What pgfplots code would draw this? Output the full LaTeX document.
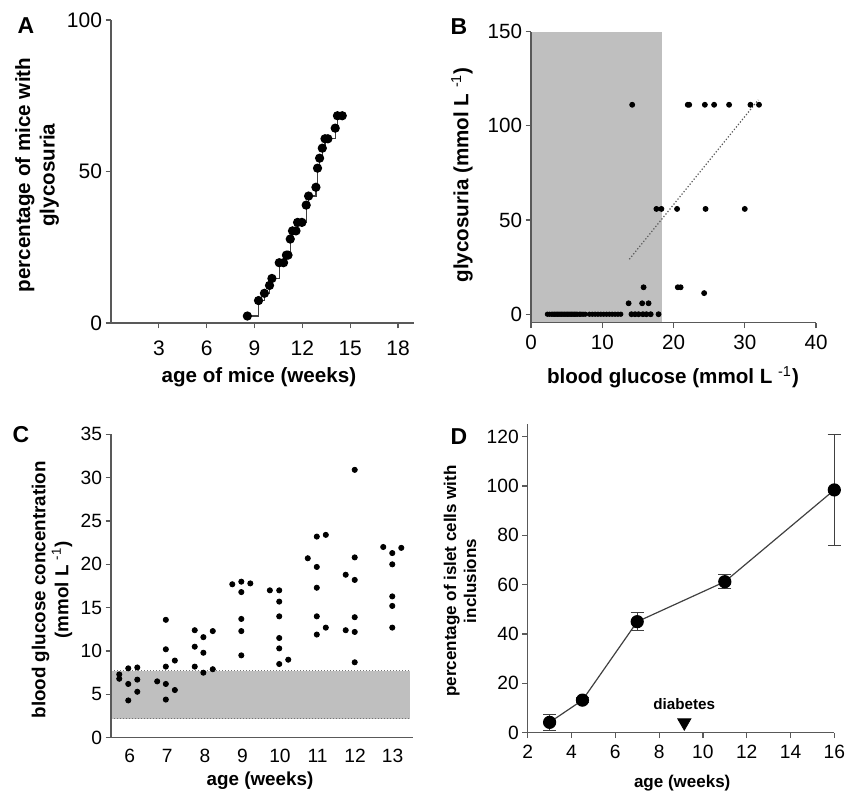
\documentclass[border=0pt]{standalone}
\usepackage{fontspec}
\setmainfont{Liberation Sans}
\usepackage{pgfplots}
\pgfplotsset{compat=1.18}
\definecolor{axgray}{gray}{0.35}
\definecolor{shade}{gray}{0.75}
\pgfplotsset{
  panel/.style={
    scale only axis,
    anchor=south west,
    axis x line*=bottom, axis y line*=left,
    axis line style={axgray, line width=0.6pt, -},
    tick style={axgray, line width=0.6pt},
    tick align=outside,
    major tick length=2.7pt,
    axis on top,
    /pgf/number format/assume math mode=true,
    tick label style={font=\fontsize{10.3}{12}\selectfont},
    yticklabel style={inner sep=1.6pt},
    xticklabel style={inner sep=0pt, yshift=-3.4pt},
    label style={font=\fontsize{10.3}{12.3}\selectfont\bfseries},
    clip=false,
  }
}
\begin{document}
\begin{tikzpicture}
\useasboundingbox (0,0) rectangle (427pt,395.5pt);
% ---------------- A
\begin{axis}[panel, at={(55.5pt,234pt)}, width=151.5pt, height=151.5pt,
  xmin=0, xmax=19, ymin=0, ymax=100,
  xtick={3,6,...,18}, ytick={0,50,100},
  tick label style={font=\fontsize{10.5}{12}\selectfont},
  xticklabel style={yshift=-2.5pt},
  xlabel={age of mice (weeks)},
  ylabel={percentage of mice with\\glycosuria},
  xlabel style={at={(axis description cs:0.488,-0.178)}, anchor=center},
  ylabel style={align=center, at={(axis description cs:-0.244,0.488)}, anchor=center},
]
\addplot[const plot, black!75, line width=0.6pt, mark=*, mark size=2pt, mark options={black, solid}] coordinates {
(8.55,2.3)(9.25,7.4)(9.62,9.8)(9.94,12.4)(10.09,14.7)(10.55,19.9)(10.82,19.9)
(11.0,22.4)(11.1,22.4)(11.24,27.7)(11.38,30.4)(11.6,30.4)(11.7,33.2)(11.97,33.2)
(12.24,38.9)(12.39,41.9)(12.85,44.8)(12.95,51.1)(13.08,54.4)(13.25,57.7)
(13.42,60.8)(13.6,60.8)(14.06,64.3)(14.2,68.4)(14.5,68.4)};
\end{axis}
% ---------------- B
\begin{axis}[panel, at={(265.5pt,234.15pt)}, width=142.5pt, height=145.5pt,
  xmin=0, xmax=40, ymin=-4.5, ymax=150,
  xtick={0,10,20,30,40}, ytick={0,50,100,150},
  xlabel={blood glucose (mmol L \textsuperscript{\mdseries -1})},
  ylabel={glycosuria (mmol L \textsuperscript{\mdseries -1})},
  xlabel style={at={(axis description cs:0.498,-0.187)}, anchor=center},
  ylabel style={at={(axis description cs:-0.242,0.508)}, anchor=center},
]
\addplot[fill=shade, draw=none] coordinates {(0,-4.5)(18.4,-4.5)(18.4,150)(0,150)} -- cycle;
\addplot[only marks, mark=*, mark size=1.25pt, black] coordinates {
(14.2,111.2)(22.0,111.2)(22.2,111.2)(24.4,111.2)(25.7,111.2)(27.8,111.2)(30.8,111.2)(32.0,111.2)
(17.6,55.9)(18.3,55.9)(20.5,55.9)(24.5,55.9)(30.0,55.9)
(15.8,14.3)(20.6,14.3)(21.0,14.3)
(24.3,11.2)
(13.7,5.8)(15.6,5.8)(16.5,5.8)
(14.1,0)(14.6,0)(15.1,0)(15.7,0)(16.2,0)(16.8,0)(17.9,0)};
\addplot[only marks, mark=*, mark size=1.1pt, black] coordinates {
(2.3,0)(2.6,0)(2.9,0)(3.1,0)(3.3,0)(3.5,0)(3.7,0)(3.9,0)(4.1,0)(4.3,0)(4.5,0)
(4.7,0)(4.9,0)(5.1,0)(5.3,0)(5.5,0)(5.7,0)(5.9,0)(6.1,0)(6.3,0)(6.5,0)(6.8,0)
(7.0,0)(7.3,0)(7.6,0)(8.2,0)(8.6,0)(9.0,0)(9.4,0)(9.8,0)(10.2,0)(10.6,0)(11.0,0)
(11.4,0)(11.8,0)(12.2,0)(12.6,0)};
\addplot[densely dotted, black!65, line width=0.6pt] coordinates {(13.8,29.2)(31.9,113.8)};
\end{axis}
% ---------------- C
\begin{axis}[panel, at={(55.5pt,26.65pt)}, width=151.15pt, height=151.7pt,
  xmin=5.5, xmax=13.55, ymin=0, ymax=35,
  xtick={6,...,13}, ytick={0,5,...,35},
  xtick style={draw=none},
  tick label style={font=\fontsize{9.6}{11}\selectfont},
  xticklabel style={yshift=0.6pt},
  label style={font=\fontsize{9.4}{11.5}\selectfont\bfseries},
  xlabel={age (weeks)},
  ylabel={blood glucose concentration\\(mmol L \textsuperscript{\mdseries -1})},
  xlabel style={at={(axis description cs:0.493,-0.142)}, anchor=center},
  ylabel style={align=center, at={(axis description cs:-0.195,0.487)}, anchor=center},
]
\addplot[fill=shade, draw=none] coordinates {(5.5,2.2)(13.45,2.2)(13.45,7.7)(5.5,7.7)} -- cycle;
\addplot[densely dotted, black!55, line width=0.5pt] coordinates {(5.5,7.7)(13.45,7.7)};
\addplot[densely dotted, black!55, line width=0.5pt] coordinates {(5.5,2.2)(13.45,2.2)};
\addplot[only marks, mark=*, mark size=1.3pt, black] coordinates {
(5.72,7.3)(5.72,6.8)(5.96,8.0)(5.96,6.2)(5.96,4.3)(6.2,8.1)(6.2,6.7)(6.2,5.3)
(6.73,6.5)(6.96,13.6)(6.96,10.2)(6.96,8.2)(6.96,6.2)(6.96,4.4)(7.2,8.9)(7.2,5.5)
(7.73,12.4)(7.73,10.5)(7.73,8.2)(7.96,11.6)(7.96,9.8)(7.96,7.5)(8.21,12.3)(8.21,7.9)
(8.73,17.7)(8.97,18.0)(8.97,16.8)(8.97,13.7)(8.97,12.3)(8.97,9.5)(9.21,17.8)
(9.73,17.0)(9.98,17.0)(9.98,15.7)(9.98,14.0)(9.98,11.5)(9.98,10.3)(9.98,8.5)(10.22,9.0)
(10.74,20.7)(10.98,23.2)(10.98,19.7)(10.98,17.3)(10.98,14.0)(10.98,11.9)(11.22,23.4)(11.22,12.7)
(11.75,18.8)(11.75,12.4)(11.99,30.9)(11.99,20.8)(11.99,18.2)(11.99,13.9)(11.99,12.2)(11.99,8.7)
(12.75,22.0)(12.99,21.3)(12.99,20.0)(12.99,16.3)(12.99,15.2)(12.99,12.7)(13.23,21.9)};
\end{axis}
% ---------------- D
\begin{axis}[panel, at={(263.85pt,29.15pt)}, width=153.3pt, height=154.2pt,
  xmin=2, xmax=16, ymin=0, ymax=125,
  xtick={2,4,...,16}, ytick={0,20,...,120},
  tick label style={font=\fontsize{9.6}{11}\selectfont},
  label style={font=\fontsize{8.5}{10}\selectfont\bfseries},
  xlabel={age (weeks)},
  ylabel={percentage of islet cells with\\inclusions},
  xlabel style={at={(axis description cs:0.504,-0.163)}, anchor=center},
  ylabel style={align=center, at={(axis description cs:-0.221,0.492)}, anchor=center},
]
\addplot[black!75, line width=0.6pt, mark=*, mark size=3pt, mark options={black},
  error bars/.cd, y dir=both, y explicit,
  error bar style={black!75, line width=0.6pt},
  error mark options={rotate=90, mark size=3.3pt, black!75, line width=0.6pt}]
  coordinates {
  (3,4.2) +- (0,3.3)
  (4.5,13.2) +- (0,1.0)
  (7,45.0) +- (0,3.6)
  (11,61.2) +- (0,2.9)
  (16,98.4) +- (0,22.4)};
\addplot[only marks, mark=triangle*, mark size=3.8pt, black, mark options={rotate=180}] coordinates {(9.15,4.1)};
\node[font=\fontsize{7.6}{9}\selectfont\bfseries] at (axis cs:9.15,11.5) {diabetes};
\end{axis}
% panel letters
\node[font=\fontsize{11.5}{13}\selectfont\bfseries] at (13pt,382.5pt) {A};
\node[font=\fontsize{11.5}{13}\selectfont\bfseries] at (229.5pt,382pt) {B};
\node[font=\fontsize{11.5}{13}\selectfont\bfseries] at (10.5pt,178pt) {C};
\node[font=\fontsize{11.5}{13}\selectfont\bfseries] at (229.5pt,177pt) {D};
\end{tikzpicture}
\end{document}
